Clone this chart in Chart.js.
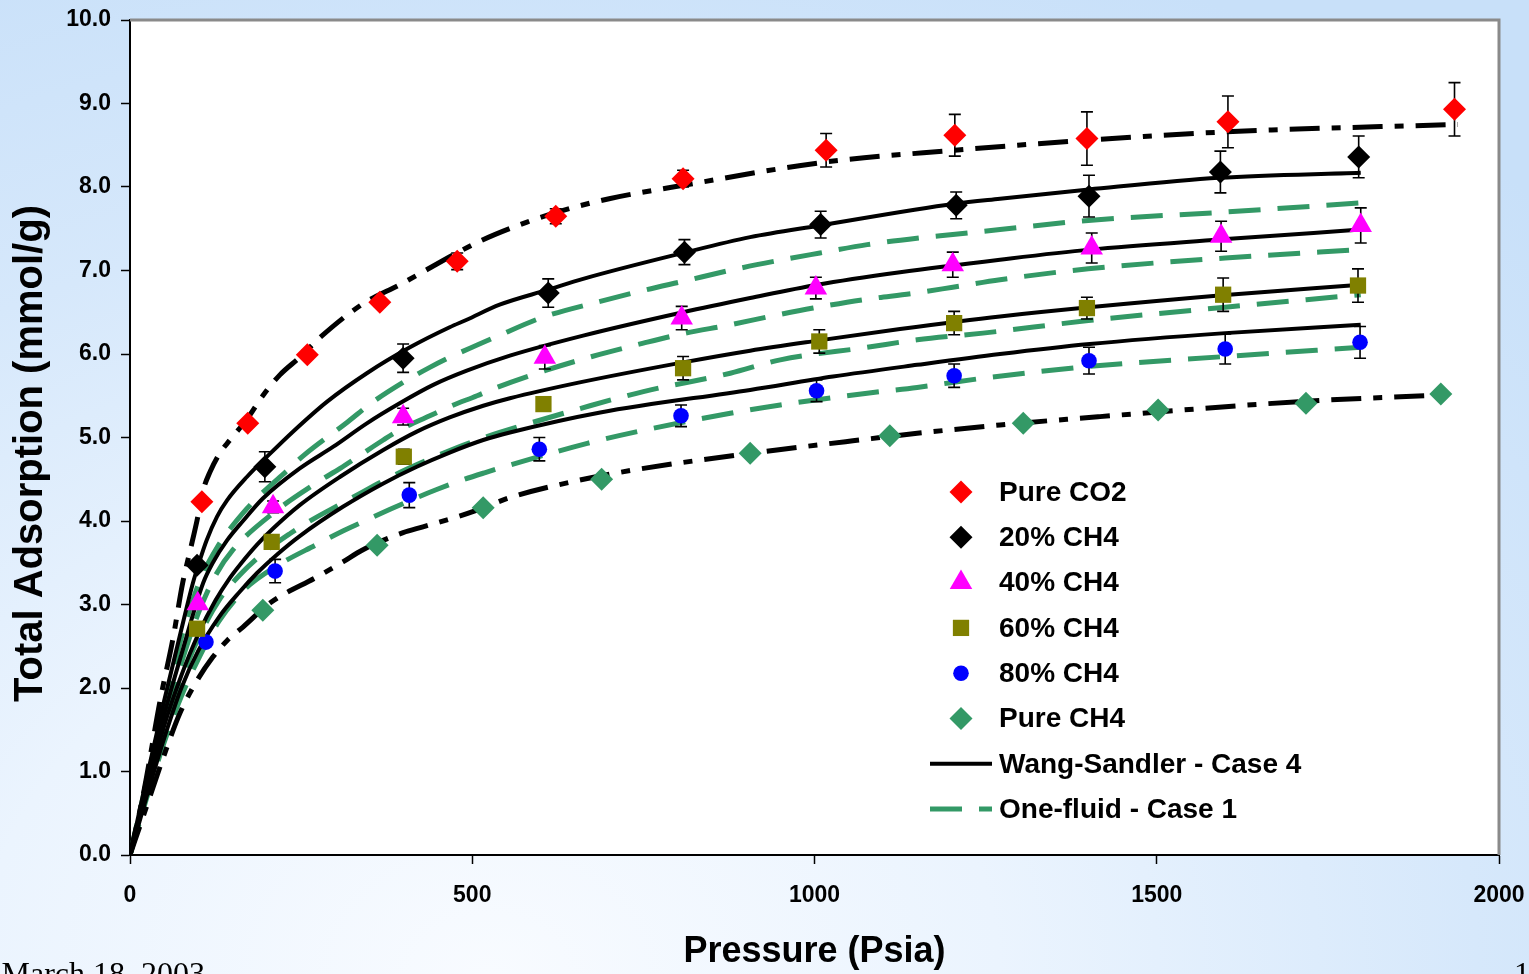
<!DOCTYPE html>
<html>
<head>
<meta charset="utf-8">
<script src="https://cdn.jsdelivr.net/npm/chart.js@4.4.0/dist/chart.umd.min.js"></script>
<style>
  html, body { margin: 0; padding: 0; }
  body {
    width: 1529px; height: 974px; overflow: hidden; position: relative;
    background: radial-gradient(ellipse 95% 115% at 32% 100%, #f8fbff 0%, #ebf4fe 35%, #d6e8fb 68%, #c8e0f9 100%);
  }
  #wrap { position: absolute; left: 0; top: 0; width: 1529px; height: 974px; }
  .foot { position: absolute; font-family: "Liberation Serif", "Times New Roman", serif; font-size: 32px; line-height: 32px; color: #000; white-space: nowrap; }
</style>
</head>
<body>
<div id="wrap"><canvas id="chart"></canvas></div>
<div class="foot" style="right:1324px; top:957px">March 18, 2003</div>
<div class="foot" style="left:1514px; top:957px">1</div>
<script>
// measured points: pressure (psia), total adsorption (mmol/g), error (+/-)
const co2P   = [105, 172, 259, 365, 478, 622, 808, 1017, 1205, 1398, 1604, 1935];
const co2Q   = [4.23, 5.17, 5.99, 6.62, 7.11, 7.65, 8.10, 8.44, 8.62, 8.58, 8.78, 8.93];
const co2Err = [0.04, 0.04, 0.05, 0.05, 0.1, 0.09, 0.1, 0.2, 0.25, 0.32, 0.31, 0.32];

const ch20P   = [98, 197, 399, 611, 810, 1009, 1207, 1401, 1593, 1795];
const ch20Q   = [3.47, 4.65, 5.95, 6.73, 7.22, 7.55, 7.78, 7.89, 8.18, 8.36];
const ch20Err = [0, 0.18, 0.17, 0.17, 0.15, 0.16, 0.16, 0.25, 0.25, 0.25];

const ch40P   = [99, 209, 399, 606, 806, 1002, 1202, 1405, 1594, 1798];
const ch40Q   = [3.01, 4.17, 5.25, 5.96, 6.43, 6.79, 7.07, 7.27, 7.41, 7.54];
const ch40Err = [0, 0.07, 0.1, 0.14, 0.14, 0.13, 0.15, 0.18, 0.18, 0.21];

const ch60P   = [98, 207, 400, 604, 808, 1007, 1204, 1398, 1597, 1794];
const ch60Q   = [2.71, 3.75, 4.77, 5.40, 5.83, 6.15, 6.37, 6.55, 6.71, 6.82];
const ch60Err = [0, 0.07, 0.09, 0.08, 0.14, 0.14, 0.14, 0.13, 0.2, 0.2];

const ch80P   = [111, 212, 408, 598, 805, 1003, 1204, 1401, 1600, 1797];
const ch80Q   = [2.55, 3.40, 4.31, 4.86, 5.26, 5.56, 5.74, 5.92, 6.06, 6.14];
const ch80Err = [0, 0.14, 0.15, 0.14, 0.13, 0.13, 0.14, 0.16, 0.18, 0.19];

const ch4P = [194, 361, 516, 689, 906, 1110, 1305, 1502, 1718, 1915];
const ch4Q = [2.93, 3.71, 4.16, 4.50, 4.81, 5.02, 5.17, 5.33, 5.41, 5.52];

// pure component model curves (dash-dot)
const co2ModelP = [0, 20, 44, 63, 77, 88, 98, 107, 117, 131, 146, 171, 194, 219, 248, 278, 340, 394, 511, 580, 624, 700, 808, 1017, 1205, 1398, 1600, 1940];
const co2ModelQ = [0, 0.75, 1.85, 2.6, 3.26, 3.65, 4.01, 4.37, 4.59, 4.81, 4.97, 5.22, 5.50, 5.75, 5.96, 6.20, 6.60, 6.83, 7.35, 7.58, 7.70, 7.86, 8.02, 8.30, 8.44, 8.56, 8.66, 8.75];
const ch4ModelP = [0, 25, 50, 73, 95, 121, 142, 165, 205, 273, 311, 339, 399, 428, 478, 507, 555, 657, 735, 833, 945, 1056, 1150, 1271, 1417, 1709, 1915];
const ch4ModelQ = [0, 0.6, 1.2, 1.7, 2.05, 2.37, 2.57, 2.73, 3.02, 3.33, 3.51, 3.65, 3.86, 3.93, 4.05, 4.13, 4.28, 4.49, 4.61, 4.73, 4.85, 4.96, 5.05, 5.15, 5.25, 5.43, 5.51];

// Wang-Sandler - Case 4 (solid)
const ws20P = [0, 25, 50, 75, 92, 102, 112, 127, 142, 171, 205, 238, 288, 346, 409, 467, 492, 540, 611, 662, 808, 906, 1008, 1205, 1271, 1401, 1591, 1798];
const ws20Q = [0, 0.95, 1.85, 2.7, 3.26, 3.53, 3.77, 4.05, 4.25, 4.53, 4.81, 5.07, 5.43, 5.77, 6.08, 6.32, 6.41, 6.59, 6.77, 6.9, 7.21, 7.40, 7.54, 7.80, 7.86, 7.97, 8.11, 8.17];
const ws40P = [0, 25, 50, 75, 107, 121, 142, 165, 194, 248, 297, 346, 394, 443, 492, 555, 662, 808, 906, 1004, 1125, 1271, 1402, 1591, 1798];
const ws40Q = [0, 0.85, 1.68, 2.4, 3.26, 3.50, 3.77, 4.0, 4.27, 4.63, 4.89, 5.17, 5.41, 5.63, 5.80, 5.98, 6.22, 6.50, 6.67, 6.83, 6.98, 7.13, 7.25, 7.37, 7.49];
const ws60P = [0, 25, 50, 75, 100, 125, 146, 161, 186, 209, 248, 307, 370, 419, 467, 516, 555, 657, 808, 906, 1004, 1125, 1271, 1591, 1798];
const ws60Q = [0, 0.8, 1.55, 2.15, 2.65, 3.05, 3.32, 3.48, 3.72, 3.91, 4.19, 4.53, 4.85, 5.07, 5.24, 5.38, 5.47, 5.66, 5.90, 6.04, 6.16, 6.30, 6.45, 6.70, 6.83];
const ws80P = [0, 25, 50, 75, 100, 130, 160, 186, 215, 248, 311, 370, 419, 467, 516, 555, 687, 906, 1027, 1150, 1271, 1402, 1600, 1798];
const ws80Q = [0, 0.72, 1.4, 2.0, 2.45, 2.85, 3.15, 3.38, 3.6, 3.82, 4.17, 4.45, 4.65, 4.82, 4.97, 5.06, 5.30, 5.57, 5.73, 5.87, 6.00, 6.12, 6.25, 6.35];

// One-fluid - Case 1 (dashed)
const of20P = [0, 25, 50, 75, 98, 107, 127, 142, 171, 186, 229, 253, 317, 354, 399, 438, 467, 508, 536, 603, 682, 755, 808, 881, 954, 1008, 1077, 1154, 1202, 1271, 1400, 1600, 1798];
const of20Q = [0, 0.9, 1.75, 2.6, 3.2, 3.38, 3.68, 3.86, 4.15, 4.28, 4.6, 4.78, 5.18, 5.42, 5.66, 5.84, 5.96, 6.11, 6.21, 6.44, 6.62, 6.77, 6.87, 7.01, 7.13, 7.21, 7.31, 7.39, 7.43, 7.49, 7.60, 7.70, 7.81];
const of40P = [0, 25, 50, 75, 100, 125, 150, 210, 273, 307, 333, 370, 394, 438, 467, 507, 536, 606, 675, 750, 806, 877, 947, 998, 1071, 1147, 1202, 1271, 1400, 1600, 1798];
const of40Q = [0, 0.8, 1.6, 2.3, 2.9, 3.35, 3.65, 4.1, 4.46, 4.63, 4.77, 4.97, 5.09, 5.26, 5.37, 5.50, 5.60, 5.80, 5.97, 6.13, 6.24, 6.35, 6.47, 6.55, 6.65, 6.73, 6.80, 6.89, 7.02, 7.15, 7.25];
const of60P = [0, 25, 50, 75, 100, 130, 160, 200, 234, 267, 307, 336, 370, 394, 443, 478, 511, 540, 672, 750, 877, 950, 1077, 1150, 1246, 1400, 1600, 1798];
const of60Q = [0, 0.75, 1.45, 2.1, 2.6, 3.05, 3.35, 3.65, 3.85, 4.02, 4.2, 4.33, 4.48, 4.58, 4.76, 4.88, 4.98, 5.06, 5.38, 5.55, 5.77, 5.93, 6.08, 6.17, 6.25, 6.40, 6.56, 6.71];
const of80P = [0, 25, 50, 75, 100, 130, 170, 212, 273, 311, 340, 380, 419, 449, 478, 519, 551, 668, 741, 877, 950, 1077, 1150, 1246, 1400, 1600, 1798];
const of80Q = [0, 0.7, 1.35, 1.9, 2.35, 2.8, 3.2, 3.45, 3.72, 3.88, 3.99, 4.14, 4.28, 4.38, 4.47, 4.58, 4.66, 4.93, 5.07, 5.29, 5.39, 5.53, 5.60, 5.71, 5.85, 5.97, 6.08];

const FONT = '"Liberation Sans", Arial, sans-serif';
const GREEN = '#339966';
const DASHDOT = [30, 12, 9, 12];
const OFDASH = [32, 17];

const pts = (xs, ys) => xs.map((x, i) => ({ x: x, y: ys[i] }));

function markerSet(label, xs, ys, err, style, color, radius) {
    return {
        label: label, data: pts(xs, ys), err: err, marker: true,
        showLine: false, pointStyle: style, pointRadius: radius, pointHoverRadius: radius,
        backgroundColor: color, borderColor: color, pointBorderWidth: 0, order: 0
    };
}
function curveSet(label, xs, ys, color, width, dash) {
    return {
        label: label, data: pts(xs, ys), showLine: true, pointRadius: 0, pointHoverRadius: 0,
        borderColor: color, borderWidth: width, borderDash: dash, borderCapStyle: 'butt',
        cubicInterpolationMode: 'monotone', fill: false, order: 1
    };
}

const datasets = [
    curveSet('CO2 model', co2ModelP, co2ModelQ, '#000', 5, DASHDOT),
    curveSet('CH4 model', ch4ModelP, ch4ModelQ, '#000', 5, DASHDOT),
    curveSet('WS 20', ws20P, ws20Q, '#000', 4, []),
    curveSet('WS 40', ws40P, ws40Q, '#000', 4, []),
    curveSet('WS 60', ws60P, ws60Q, '#000', 4, []),
    curveSet('WS 80', ws80P, ws80Q, '#000', 4, []),
    curveSet('OF 20', of20P, of20Q, GREEN, 5, OFDASH),
    curveSet('OF 40', of40P, of40Q, GREEN, 5, OFDASH),
    curveSet('OF 60', of60P, of60Q, GREEN, 5, OFDASH),
    curveSet('OF 80', of80P, of80Q, GREEN, 5, OFDASH),
    markerSet('Pure CO2', co2P, co2Q, co2Err, 'rectRot', '#ff0000', 11.5),
    markerSet('20% CH4', ch20P, ch20Q, ch20Err, 'rectRot', '#000000', 11.5),
    markerSet('40% CH4', ch40P, ch40Q, ch40Err, 'triangle', '#ff00ff', 13),
    markerSet('60% CH4', ch60P, ch60Q, ch60Err, 'rect', '#808000', 11.5),
    markerSet('80% CH4', ch80P, ch80Q, ch80Err, 'circle', '#0000ff', 7.8),
    markerSet('Pure CH4', ch4P, ch4Q, null, 'rectRot', GREEN, 11.5)
];

// white plot area with grey top/right frame
const plotFrame = {
    id: 'plotFrame',
    beforeDraw(chart) {
        const { ctx, chartArea: a } = chart;
        ctx.save();
        ctx.fillStyle = '#fff';
        ctx.fillRect(a.left, a.top, a.right - a.left, a.bottom - a.top);
        ctx.restore();
    },
    afterDraw(chart) {
        const { ctx, chartArea: a } = chart;
        ctx.save();
        ctx.strokeStyle = '#8a8a8a';
        ctx.lineWidth = 3;
        ctx.beginPath();
        ctx.moveTo(a.left, a.top);
        ctx.lineTo(a.right, a.top);
        ctx.lineTo(a.right, a.bottom);
        ctx.stroke();
        // y axis title, drawn by hand so it sits where the original does
        ctx.fillStyle = '#000';
        ctx.font = 'bold 40px ' + FONT;
        ctx.textAlign = 'center';
        ctx.textBaseline = 'alphabetic';
        ctx.translate(42, (a.top + a.bottom) / 2 + 16);
        ctx.rotate(-Math.PI / 2);
        ctx.fillText('Total Adsorption (mmol/g)', 0, 0);
        ctx.restore();
    }
};

// error bars, drawn just before each marker dataset
const errorBars = {
    id: 'errorBars',
    beforeDatasetDraw(chart, args) {
        const ds = chart.data.datasets[args.index];
        if (!ds.err) return;
        const { ctx } = chart;
        const xs = chart.scales.x, ys = chart.scales.y;
        ctx.save();
        ctx.strokeStyle = '#000';
        ctx.lineWidth = 1.6;
        ds.data.forEach((p, i) => {
            const e = ds.err[i];
            if (!e) return;
            const px = xs.getPixelForValue(p.x);
            const top = ys.getPixelForValue(p.y + e);
            const bot = ys.getPixelForValue(p.y - e);
            ctx.beginPath();
            ctx.moveTo(px, top); ctx.lineTo(px, bot);
            ctx.moveTo(px - 6, top); ctx.lineTo(px + 6, top);
            ctx.moveTo(px - 6, bot); ctx.lineTo(px + 6, bot);
            ctx.stroke();
        });
        ctx.restore();
    }
};

// legend inside the plot area
const insideLegend = {
    id: 'insideLegend',
    afterDatasetsDraw(chart) {
        const { ctx, chartArea: a } = chart;
        const mx = a.left + 831, tx = a.left + 869;
        let y = a.top + 472;
        const step = 45.3;
        ctx.save();
        ctx.font = 'bold 28px ' + FONT;
        ctx.textBaseline = 'middle';
        ctx.textAlign = 'left';
        chart.data.datasets.filter(d => d.marker).forEach(d => {
            ctx.fillStyle = d.backgroundColor;
            Chart.helpers.drawPoint(ctx, { pointStyle: d.pointStyle, radius: d.pointRadius, rotation: 0, borderWidth: 0 }, mx, y);
            ctx.fillStyle = '#000';
            ctx.fillText(d.label, tx, y + 1);
            y += step;
        });
        const lines = [
            { text: 'Wang-Sandler - Case 4', color: '#000', width: 4, dash: [] },
            { text: 'One-fluid - Case 1', color: GREEN, width: 5, dash: OFDASH }
        ];
        lines.forEach(l => {
            ctx.strokeStyle = l.color;
            ctx.lineWidth = l.width;
            ctx.setLineDash(l.dash);
            ctx.beginPath();
            ctx.moveTo(a.left + 800, y);
            ctx.lineTo(a.left + 862, y);
            ctx.stroke();
            ctx.setLineDash([]);
            ctx.fillStyle = '#000';
            ctx.fillText(l.text, tx, y + 1);
            y += step;
        });
        ctx.restore();
    }
};

new Chart(document.getElementById('chart'), {
    type: 'scatter',
    data: { datasets: datasets },
    plugins: [plotFrame, errorBars, insideLegend],
    options: {
        responsive: true,
        maintainAspectRatio: false,
        animation: false,
        events: [],
        layout: { padding: { left: 0, right: 30, top: 20, bottom: 0 } },
        plugins: {
            legend: { display: false },
            tooltip: { enabled: false }
        },
        scales: {
            x: {
                type: 'linear', min: 0, max: 2000,
                afterFit(scale) { scale.height = 119; },
                border: { display: true, color: '#000', width: 2 },
                grid: { drawOnChartArea: false, drawTicks: true, tickLength: 9, tickWidth: 1.5, tickColor: '#000' },
                // tall line height pushes the labels down without widening the side padding
                ticks: { stepSize: 500, maxRotation: 0, padding: 0, color: '#000',
                         font: { family: FONT, weight: 'bold', size: 23, lineHeight: 2.75 },
                         callback: v => String(v) },
                title: { display: true, text: 'Pressure (Psia)', color: '#000', padding: { top: 0, bottom: 0 }, font: { family: FONT, weight: 'bold', size: 36 } }
            },
            y: {
                type: 'linear', min: 0, max: 10,
                afterFit(scale) { scale.width = 130; },
                border: { display: true, color: '#000', width: 2 },
                grid: { drawOnChartArea: false, drawTicks: true, tickLength: 9, tickWidth: 1.5, tickColor: '#000' },
                ticks: { stepSize: 1, padding: 10, color: '#000', font: { family: FONT, weight: 'bold', size: 23, lineHeight: 0.85 },
                         callback: v => v.toFixed(1) }
            }
        }
    }
});
</script>
</body>
</html>
